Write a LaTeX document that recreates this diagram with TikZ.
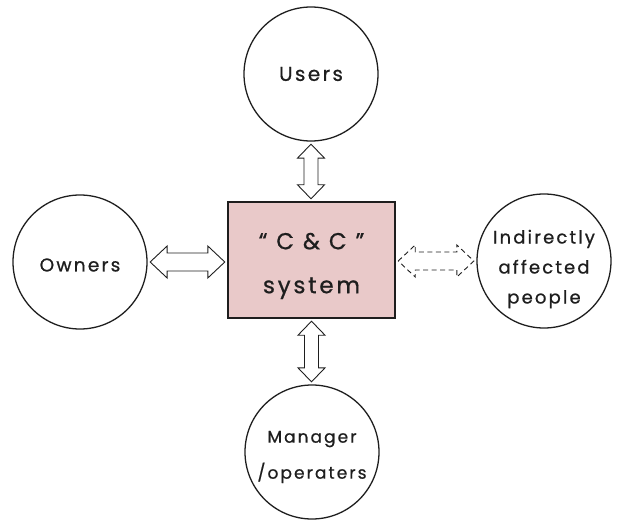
\documentclass[tikz,border=0pt]{standalone}
\usepackage{fontspec}
\setmainfont{Poppins}[LetterSpace=12, FakeBold=0.8]
\usetikzlibrary{calc}
\definecolor{boxfill}{RGB}{233,201,201}
\definecolor{inkline}{RGB}{30,30,30}

\begin{document}
\begin{tikzpicture}[x=1pt,y=1pt,
  % circles for the parties around the system
  party/.style={circle, draw=inkline, line width=1.3pt, minimum size=134pt,
    inner sep=0pt},
  sysbox/.style={rectangle, draw=inkline, line width=1.4pt, fill=boxfill,
    minimum width=167pt, minimum height=116pt, inner sep=0pt},
  caption/.style={inner sep=0pt, align=center, text=inkline},
  % hollow two-headed block arrow: head length, head half-width, shaft half-width, gap
  arrowdims/.code n args={4}{\def\ahl{#1}\def\ahw{#2}\def\asw{#3}\def\agap{#4}},
  blockarrow/.style={draw=inkline, line width=0.9pt, line join=miter,
    to path={
      let \p1=($(\tikztostart)!\agap pt!(\tikztotarget)$),
          \p2=($(\tikztotarget)!\agap pt!(\tikztostart)$),
          \n1={atan2(\y2-\y1,\x2-\x1)},
          \n2={veclen(\x2-\x1,\y2-\y1)},
          \n3={\n2-\ahl pt}
      in (\p1)
      -- ($(\p1)+({\n1}:\ahl pt)+({\n1+90}:\ahw pt)$)
      -- ($(\p1)+({\n1}:\ahl pt)+({\n1+90}:\asw pt)$)
      -- ($(\p1)+({\n1}:\n3)+({\n1+90}:\asw pt)$)
      -- ($(\p1)+({\n1}:\n3)+({\n1+90}:\ahw pt)$)
      -- (\p2)
      -- ($(\p1)+({\n1}:\n3)+({\n1-90}:\ahw pt)$)
      -- ($(\p1)+({\n1}:\n3)+({\n1-90}:\asw pt)$)
      -- ($(\p1)+({\n1}:\ahl pt)+({\n1-90}:\asw pt)$)
      -- ($(\p1)+({\n1}:\ahl pt)+({\n1-90}:\ahw pt)$)
      -- cycle}},
  vblock/.style={blockarrow, arrowdims={14}{13.5}{7}{2.5}},
  hblock/.style={blockarrow, arrowdims={17}{16}{9}{2.5}},
]
\useasboundingbox (0,0) rectangle (620,520);

% the system and the four parties
\node[sysbox] (sys) at (311.5,260) {};
\node[party] (users) at (311,446) {};
\node[party] (owners) at (80,258) {};
\node[party] (indirect) at (544,259) {};
\node[party] (manager) at (312,68) {};

% their captions
\node[caption, font=\fontsize{23}{44}\selectfont] (systext)
  at ([yshift=-6pt]sys.center) {“ C \& C ”\\system};
\node[caption, font=\fontsize{20}{30}\selectfont] (userstext)
  at (users.center) {Users};
\node[caption, font=\fontsize{18.5}{30}\selectfont] (ownerstext)
  at ([yshift=-3pt]owners.center) {Owners};
\node[caption, font=\fontsize{18}{30}\selectfont] (indirecttext)
  at ([yshift=-8pt]indirect.center) {Indirectly\\affected\\people};
\node[caption, font=\fontsize{17}{36}\selectfont] (managertext)
  at ([yshift=-5pt]manager.center) {Manager\\/operaters};

% two-way flows between the system and each party
\draw[vblock] (users.south) to (users.south |- sys.north);
\draw[vblock] (sys.south) to (sys.south |- manager.north);
\draw[hblock] (owners.east) to (owners.east -| sys.west);
\draw[hblock, dash pattern=on 5pt off 3.5pt] (sys.east |- indirect.west) to (indirect.west);
\end{tikzpicture}
\end{document}
